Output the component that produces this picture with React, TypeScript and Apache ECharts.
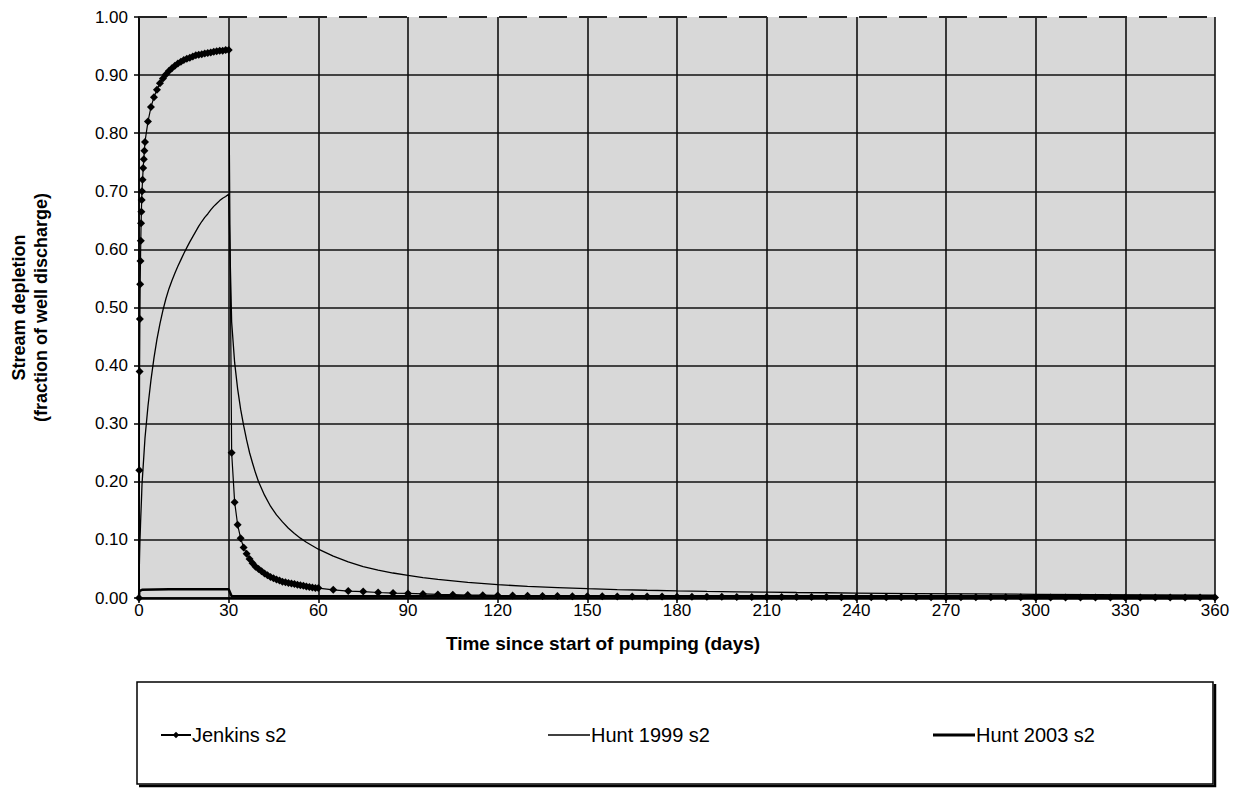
import React, { useEffect, useRef } from "react";
import * as echarts from "echarts";

// ---- data ----
const jenkinsDays = [
  0, 0.1, 0.2, 0.3, 0.4, 0.5, 0.6, 0.7, 0.8, 0.9,
  1, 1.2, 1.4, 1.6, 1.8, 2,
  3, 4, 5, 6, 7, 8, 9, 10, 11, 12, 13, 14, 15, 16, 17, 18, 19, 20, 21, 22, 23, 24, 25, 26, 27, 28, 29, 30,
  31, 32, 33, 34, 35, 36, 37, 38, 39, 40, 41, 42, 43, 44, 45, 46, 47, 48, 49, 50, 51, 52, 53, 54, 55, 56, 57, 58, 59, 60,
  65, 70, 75, 80, 85, 90, 95, 100, 105, 110, 115, 120, 125, 130, 135, 140, 145, 150, 155, 160, 165, 170, 175, 180,
  185, 190, 195, 200, 205, 210, 215, 220, 225, 230, 235, 240, 245, 250, 255, 260, 265, 270, 275, 280, 285, 290, 295, 300,
  305, 310, 315, 320, 325, 330, 335, 340, 345, 350, 355, 360,
];
const jenkinsValues = [
  0, 0.22, 0.39, 0.48, 0.54, 0.58, 0.615, 0.645, 0.665, 0.685,
  0.7, 0.72, 0.74, 0.755, 0.77, 0.785,
  0.82, 0.845, 0.862, 0.875, 0.886, 0.894, 0.901, 0.907, 0.912, 0.916, 0.92, 0.923, 0.926, 0.928, 0.93, 0.932, 0.934, 0.935, 0.936, 0.937, 0.938, 0.939, 0.94, 0.941, 0.942, 0.942, 0.943, 0.943,
  0.25, 0.165, 0.126, 0.103, 0.087, 0.076, 0.067, 0.06, 0.054, 0.05, 0.046, 0.042, 0.039, 0.036, 0.034, 0.032, 0.03, 0.028, 0.027, 0.026, 0.025, 0.024, 0.023, 0.022, 0.021, 0.02, 0.019, 0.018, 0.017, 0.017,
  0.014, 0.012, 0.011, 0.0095, 0.0085, 0.0078, 0.007, 0.0062, 0.0057, 0.0052, 0.0048, 0.0044, 0.0041, 0.0038, 0.0036, 0.0034, 0.0032, 0.003, 0.0029, 0.0027, 0.0026, 0.0025, 0.0024, 0.0023,
  0.0022, 0.0021, 0.002, 0.0019, 0.0019, 0.0018, 0.0017, 0.0017, 0.0016, 0.0016, 0.0015, 0.0015, 0.0014, 0.0014, 0.0013, 0.0013, 0.0013, 0.0012, 0.0012, 0.0012, 0.0011, 0.0011, 0.0011, 0.001,
  0.001, 0.001, 0.001, 0.0009, 0.0009, 0.0009, 0.0009, 0.0008, 0.0008, 0.0008, 0.0008, 0.0007,
];

const hunt1999Days = [
  0, 0.1, 0.2, 0.3, 0.4, 0.5, 0.6, 0.7, 0.8, 0.9,
  1, 2, 3, 4, 5, 6, 7, 8, 9, 10, 11, 12, 13, 14, 15, 16, 17, 18, 19, 20, 21, 22, 23, 24, 25, 26, 27, 28, 29, 30,
  31, 32, 33, 34, 35, 36, 37, 38, 39, 40,
  42, 44, 46, 48, 50, 52, 54, 56, 58, 60,
  65, 70, 75, 80, 85, 90, 95, 100,
  110, 120, 130, 140, 150, 160, 170, 180, 190, 200, 210, 220, 230, 240,
  260, 280, 300, 320, 340, 360,
];
const hunt1999Values = [
  0, 0.05, 0.075, 0.095, 0.11, 0.125, 0.14, 0.153, 0.166, 0.18,
  0.195, 0.275, 0.33, 0.375, 0.413, 0.445, 0.472, 0.495, 0.515, 0.532, 0.546, 0.559, 0.571, 0.582, 0.593, 0.603, 0.613, 0.622, 0.631, 0.64, 0.648, 0.655, 0.661, 0.668, 0.674, 0.679, 0.684, 0.688, 0.691, 0.695,
  0.475, 0.405, 0.36, 0.325, 0.297, 0.272, 0.25, 0.232, 0.215, 0.2,
  0.177, 0.158, 0.143, 0.131, 0.12, 0.111, 0.103, 0.096, 0.09, 0.084,
  0.072, 0.062, 0.054, 0.048, 0.043, 0.039, 0.035, 0.032,
  0.027, 0.023, 0.02, 0.018, 0.016, 0.0145, 0.0133, 0.0123, 0.0114, 0.0107, 0.0101, 0.0095, 0.009, 0.0085,
  0.0077, 0.007, 0.0064, 0.0059, 0.0055, 0.0051,
];

const hunt2003Days = [0, 0.1, 1, 10, 20, 30, 31, 40, 60, 90, 120, 180, 240, 300, 360];
const hunt2003Values = [0, 0.012, 0.014, 0.015, 0.015, 0.015, 0.003, 0.003, 0.003, 0.003, 0.003, 0.003, 0.003, 0.003, 0.003];

const seriesNames = ["Jenkins s2", "Hunt 1999 s2", "Hunt 2003 s2"];
const xAxisTitle = "Time since start of pumping (days)";
const yAxisTitle = "Stream depletion\n(fraction of well discharge)";

const zip = (d: number[], v: number[]) => d.map((x, i) => [x, v[i]]);

const FONT = '"Liberation Sans", Arial, sans-serif';

export default function App() {
  const ref = useRef<HTMLDivElement>(null);

  useEffect(() => {
    if (!ref.current) return;
    const chart = echarts.init(ref.current, null, { renderer: "svg" });
    const legendText = { fontSize: 20, color: "#000", fontFamily: FONT, padding: [0, 0, 0, -4] };
    chart.setOption({
      animation: false,
      backgroundColor: "#fff",
      textStyle: { fontFamily: FONT },
      grid: {
        left: 138,
        right: 18,
        top: 17,
        bottom: 191,
        show: true,
        backgroundColor: "#d8d8d8",
        borderWidth: 0,
      },
      xAxis: {
        type: "value",
        min: 0,
        max: 360,
        interval: 30,
        axisLine: { show: true, lineStyle: { color: "#000", width: 2.5 } },
        axisTick: { show: true, inside: false, length: 5, lineStyle: { color: "#000", width: 1.5 } },
        axisLabel: { color: "#000", fontSize: 17, fontFamily: FONT, margin: 4 },
        splitLine: { show: true, lineStyle: { color: "#111", width: 1.6 } },
      },
      yAxis: {
        type: "value",
        min: 0,
        max: 1,
        interval: 0.1,
        name: yAxisTitle,
        nameLocation: "middle",
        nameGap: 87,
        nameRotate: 90,
        nameTextStyle: { fontWeight: "bold", fontSize: 18, color: "#000", fontFamily: FONT, lineHeight: 22 },
        axisLine: { show: true, lineStyle: { color: "#000", width: 1.6 } },
        axisTick: { show: true, inside: false, length: 5, lineStyle: { color: "#000", width: 1.5 } },
        axisLabel: {
          color: "#000",
          fontSize: 17,
          fontFamily: FONT,
          margin: 11,
          formatter: (v: number) => v.toFixed(2),
        },
        splitLine: { show: true, showMaxLine: false, lineStyle: { color: "#111", width: 1.6 } },
      },
      legend: [
        {
          data: [seriesNames[0]],
          left: 160,
          top: 725,
          padding: 0,
          itemWidth: 30,
          itemHeight: 8,
          textStyle: legendText,
        },
        {
          data: [{ name: seriesNames[1], icon: "rect" }],
          left: 548,
          top: 725,
          padding: 0,
          itemWidth: 42,
          itemHeight: 1.5,
          itemStyle: { color: "#000" },
          textStyle: legendText,
        },
        {
          data: [{ name: seriesNames[2], icon: "rect" }],
          left: 933,
          top: 725,
          padding: 0,
          itemWidth: 42,
          itemHeight: 3,
          itemStyle: { color: "#000" },
          textStyle: legendText,
        },
      ],
      graphic: [
        {
          type: "rect",
          z: 0,
          shape: { x: 137, y: 682, width: 1076, height: 102 },
          style: { fill: "#fff", stroke: "#000", lineWidth: 1.5 },
        },
        {
          type: "polyline",
          z: 0,
          shape: { points: [[1215, 684], [1215, 786], [139, 786]] },
          style: { fill: null, stroke: "#000", lineWidth: 2.5 },
        },
        {
          type: "text",
          z: 10,
          x: 603,
          y: 643,
          style: {
            text: xAxisTitle,
            fontSize: 19,
            fontWeight: "bold",
            fontFamily: FONT,
            fill: "#000",
            align: "center",
            verticalAlign: "middle",
          },
        },
      ],
      series: [
        {
          name: seriesNames[1],
          type: "line",
          data: zip(hunt1999Days, hunt1999Values),
          symbol: "none",
          lineStyle: { color: "#000", width: 1.3 },
          itemStyle: { color: "#000" },
          z: 3,
        },
        {
          name: seriesNames[2],
          type: "line",
          data: zip(hunt2003Days, hunt2003Values),
          symbol: "none",
          lineStyle: { color: "#000", width: 2.5 },
          itemStyle: { color: "#000" },
          z: 4,
          markLine: {
            silent: true,
            symbol: "none",
            label: { show: false },
            lineStyle: { color: "#222", width: 2, type: [28, 12] },
            data: [{ yAxis: 1 }],
          },
        },
        {
          name: seriesNames[0],
          type: "line",
          data: zip(jenkinsDays, jenkinsValues),
          symbol: "diamond",
          symbolSize: 8,
          showAllSymbol: true,
          lineStyle: { color: "#000", width: 1.2 },
          itemStyle: { color: "#000" },
          z: 5,
        },
      ],
    });
    return () => chart.dispose();
  }, []);

  return (
    <div
      ref={ref}
      style={{ position: "fixed", left: 0, top: 0, width: 1233, height: 789, background: "#fff" }}
    />
  );
}
